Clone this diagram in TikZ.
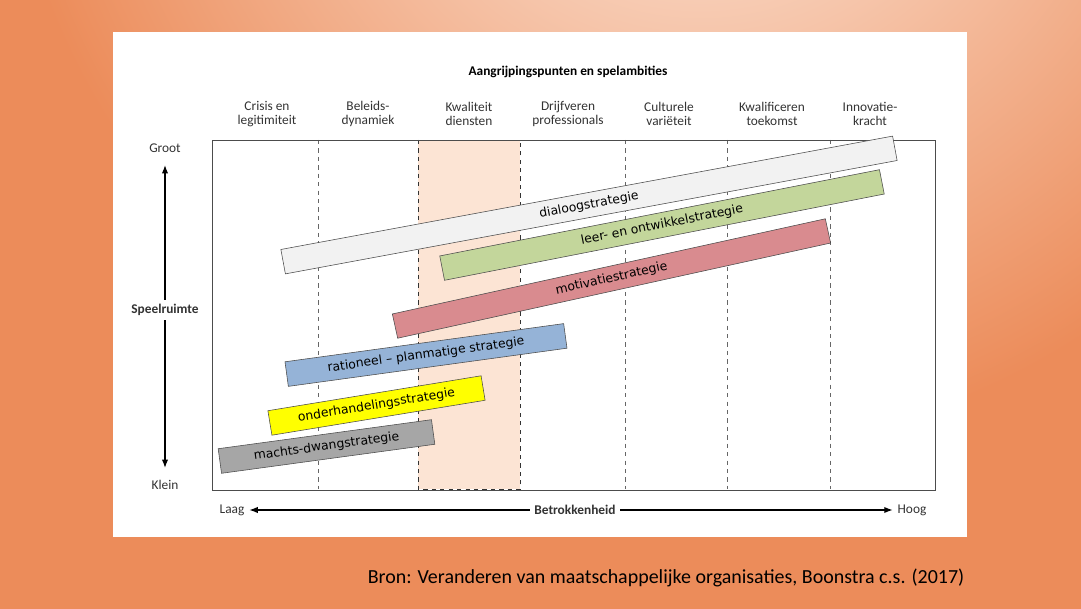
\documentclass[tikz,border=0pt]{standalone}
\usepackage{fontspec}
\setmainfont{Carlito}
\newfontfamily\barfont{DejaVu Sans}
\usetikzlibrary{arrows.meta}
\definecolor{bgouter}{RGB}{236,140,90}
\definecolor{bginner}{RGB}{253,238,228}
\definecolor{focus}{RGB}{252,228,212}
\definecolor{dialoog}{RGB}{242,242,242}
\definecolor{leer}{RGB}{195,214,155}
\definecolor{motivatie}{RGB}{217,139,143}
\definecolor{rationeel}{RGB}{149,179,215}
\definecolor{onderhandel}{RGB}{255,255,0}
\definecolor{machts}{RGB}{166,166,166}
\tikzstyle{header}=[align=center, font=\fontsize{9.5}{10.5}\selectfont, text=black!80]
\tikzstyle{bar}=[draw=black!70, minimum height=0.62cm, inner sep=0pt, font=\barfont\fontsize{8.8}{10}\selectfont]
\tikzset{divider/.style={dashed, black!60, thin}}
\begin{document}
\begin{tikzpicture}[x=0.025cm,y=-0.025cm]
  \fill[bgouter] (0,0) rectangle (1081,609);
  \begin{scope}
    \clip (0,0) rectangle (1081,609);
    \shade[inner color=bginner, outer color=bgouter] (700,-250) circle (700);
  \end{scope}
  \fill[white] (113,32) rectangle (967,537);
  %% Frame and columns
  \fill[focus] (418,140) rectangle (520,489);
  \draw[dashed, black!80] (418,140) rectangle (520,489);
  \foreach \x in {318,625,727,830} {
    \draw[divider] (\x,140) -- (\x,489);
  }
  \draw[black!70] (212,140) rectangle (935,490);
  \node[font=\bfseries\fontsize{9.5}{11}\selectfont] (title) at (568,72) {Aangrijpingspunten en spelambities};
  \node[header] (h1) at (267,114) {Crisis en\\legitimiteit};
  \node[header] (h2) at (368,114) {Beleids-\\dynamiek};
  \node[header] (h3) at (469,114) {Kwaliteit\\diensten};
  \node[header] (h4) at (568,114) {Drijfveren\\professionals};
  \node[header] (h5) at (669,114) {Culturele\\variëteit};
  \node[header] (h6) at (772,114) {Kwalificeren\\toekomst};
  \node[header] (h7) at (870,114) {Innovatie-\\kracht};
  %% Strategies
  \node[bar, fill=dialoog, rotate=10.5, minimum width=15.55cm] (dialoog) at (589,205) {dialoogstrategie};
  \node[bar, fill=leer, rotate=11.1, minimum width=11.2cm] (leer) at (662,225) {leer- en ontwikkelstrategie};
  \node[bar, fill=motivatie, rotate=12.4, minimum width=11.08cm] (motivatie) at (611.5,278.5) {motivatiestrategie};
  \node[bar, fill=rationeel, rotate=7.8, minimum width=7.03cm] (rationeel) at (426,355) {rationeel \textendash\ planmatige\ strategie};
  \node[bar, fill=onderhandel, rotate=9.3, minimum width=5.4cm] (onderhandel) at (376.5,405.5) {onderhandelingsstrategie};
  \node[bar, fill=machts, rotate=7.75, minimum width=5.38cm] (machts) at (326.5,446.5) {machts-dwangstrategie};
  %% Axes
  \node[header] (groot) at (165,148) {Groot};
  \node[header] (klein) at (165,485) {Klein};
  \draw[-{Latex[length=6pt]}, thick] (165,310) -- (165,165);
  \draw[-{Latex[length=6pt]}, thick] (165,310) -- (165,468);
  \node[header, fill=white, font=\bfseries\fontsize{9.5}{11}\selectfont] (speel) at (165,310) {Speelruimte};
  \node[header] (laag) at (232,510) {Laag};
  \node[header] (hoog) at (912,510) {Hoog};
  \draw[-{Latex[length=6pt]}, thick] (575,510) -- (laag.east);
  \draw[-{Latex[length=6pt]}, thick] (575,510) -- (hoog.west);
  \node[header, fill=white, font=\bfseries\fontsize{9.5}{11}\selectfont] (betrok) at (575,510) {Betrokkenheid};
  \node[font=\fontsize{14.2}{16}\selectfont] (bron) at (666,578) {Bron: Veranderen van maatschappelijke organisaties, Boonstra c.s. (2017)};
\end{tikzpicture}
\end{document}
